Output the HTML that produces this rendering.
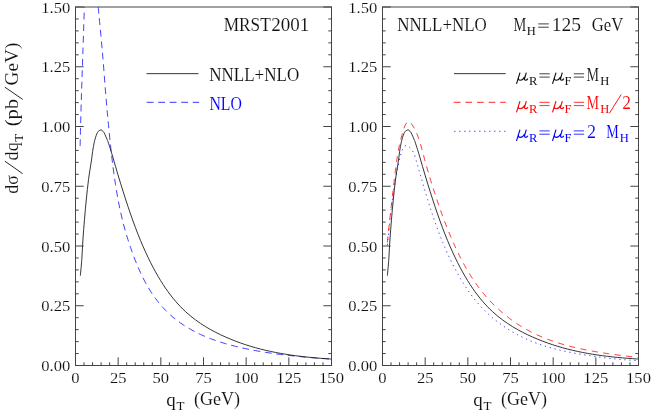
<!DOCTYPE html>
<html><head><meta charset="utf-8"><title>plot</title>
<style>
html,body{margin:0;padding:0;background:#fff;}
svg{display:block;will-change:transform;}
text{font-family:"Liberation Serif",serif;fill:#111;stroke:#fff;stroke-width:0.1px;}
.mu{font-size:17.5px;font-style:italic;stroke-width:0.4px;}
.s{stroke:none;}
.t{font-size:15px;}
.b{font-size:18px;}
.s{font-size:12.5px;}
.i{font-style:italic;}
.cv{fill:none;stroke-width:0.85;}
</style></head><body>
<svg width="654" height="414" viewBox="0 0 654 414">
<rect width="654" height="414" fill="#fff"/>
<defs>
<clipPath id="c1"><rect x="75.5" y="7" width="256" height="358.5"/></clipPath>
<clipPath id="c2"><rect x="382.5" y="7" width="256" height="358.5"/></clipPath>
</defs>
<g clip-path="url(#c1)">
<path class="cv" stroke="#2020ff" stroke-dasharray="6.8 4.7" d="M80.10 146.00 C80.30 138.33 80.83 115.67 81.30 100.00 C81.77 84.33 82.35 68.67 82.90 52.00 C83.45 35.33 84.32 8.67 84.60 0.00"/>
<path class="cv" stroke="#2020ff" stroke-dasharray="6.8 4.7" d="M98.20 7.00 C98.90 14.50 101.07 36.50 102.40 52.00 C103.73 67.50 105.27 88.73 106.20 100.00 C107.13 111.27 107.28 112.10 108.00 119.64 C108.72 127.17 109.67 137.36 110.50 145.23 C111.33 153.10 112.17 160.28 113.00 166.84 C113.83 173.40 114.67 179.18 115.50 184.59 C116.33 190.01 117.17 194.80 118.00 199.32 C118.83 203.84 119.67 207.88 120.50 211.71 C121.33 215.53 122.17 218.99 123.00 222.29 C123.83 225.59 124.67 228.61 125.50 231.52 C126.33 234.43 127.17 237.14 128.00 239.77 C128.83 242.40 129.67 244.89 130.50 247.32 C131.33 249.75 132.17 252.09 133.00 254.36 C133.83 256.63 134.67 258.81 135.50 260.92 C136.33 263.03 137.17 265.06 138.00 267.01 C138.83 268.97 139.67 270.85 140.50 272.66 C141.33 274.47 142.17 276.21 143.00 277.89 C143.83 279.56 144.67 281.16 145.50 282.70 C146.33 284.24 147.17 285.72 148.00 287.14 C148.83 288.56 149.67 289.92 150.50 291.23 C151.33 292.54 152.17 293.80 153.00 295.02 C153.83 296.23 154.67 297.39 155.50 298.52 C156.33 299.65 157.17 300.73 158.00 301.77 C158.83 302.82 159.67 303.82 160.50 304.80 C161.33 305.77 162.17 306.71 163.00 307.62 C163.83 308.52 164.67 309.40 165.50 310.25 C166.33 311.10 167.17 311.92 168.00 312.71 C168.83 313.51 169.67 314.27 170.50 315.02 C171.33 315.77 172.17 316.49 173.00 317.19 C173.83 317.89 174.67 318.57 175.50 319.23 C176.33 319.89 177.17 320.53 178.00 321.16 C178.83 321.78 179.67 322.39 180.50 322.98 C181.33 323.56 182.17 324.14 183.00 324.69 C183.83 325.25 184.67 325.79 185.50 326.32 C186.33 326.84 187.17 327.36 188.00 327.85 C188.83 328.35 189.67 328.84 190.50 329.31 C191.33 329.78 192.17 330.24 193.00 330.69 C193.83 331.14 194.67 331.58 195.50 332.00 C196.33 332.43 197.17 332.84 198.00 333.25 C198.83 333.65 199.67 334.05 200.50 334.43 C201.33 334.81 202.17 335.19 203.00 335.56 C203.83 335.92 204.67 336.28 205.50 336.63 C206.33 336.98 207.17 337.32 208.00 337.65 C208.83 337.98 209.67 338.31 210.50 338.62 C211.33 338.94 212.17 339.25 213.00 339.55 C213.83 339.86 214.67 340.15 215.50 340.44 C216.33 340.73 217.17 341.02 218.00 341.29 C218.83 341.57 219.67 341.84 220.50 342.11 C221.33 342.37 222.17 342.63 223.00 342.89 C223.83 343.14 224.67 343.39 225.50 343.63 C226.33 343.88 227.17 344.12 228.00 344.35 C228.83 344.58 229.67 344.81 230.50 345.04 C231.33 345.26 232.17 345.48 233.00 345.70 C233.83 345.91 234.67 346.13 235.50 346.33 C236.33 346.54 237.17 346.74 238.00 346.94 C238.83 347.14 239.67 347.34 240.50 347.53 C241.33 347.72 242.17 347.91 243.00 348.10 C243.83 348.28 244.67 348.46 245.50 348.64 C246.33 348.82 247.17 348.99 248.00 349.16 C248.83 349.33 249.67 349.50 250.50 349.66 C251.33 349.83 252.17 349.99 253.00 350.15 C253.83 350.31 254.67 350.46 255.50 350.61 C256.33 350.77 257.17 350.92 258.00 351.06 C258.83 351.21 259.67 351.35 260.50 351.49 C261.33 351.64 262.17 351.77 263.00 351.91 C263.83 352.05 264.67 352.18 265.50 352.31 C266.33 352.44 267.17 352.57 268.00 352.70 C268.83 352.82 269.67 352.95 270.50 353.07 C271.33 353.19 272.17 353.31 273.00 353.43 C273.83 353.55 274.67 353.66 275.50 353.78 C276.33 353.89 277.17 354.00 278.00 354.11 C278.83 354.22 279.67 354.33 280.50 354.43 C281.33 354.54 282.17 354.64 283.00 354.74 C283.83 354.85 284.67 354.95 285.50 355.04 C286.33 355.14 287.17 355.24 288.00 355.33 C288.83 355.43 289.67 355.52 290.50 355.61 C291.33 355.71 292.17 355.80 293.00 355.88 C293.83 355.97 294.67 356.06 295.50 356.15 C296.33 356.23 297.17 356.32 298.00 356.40 C298.83 356.48 299.67 356.56 300.50 356.64 C301.33 356.72 302.17 356.80 303.00 356.88 C303.83 356.95 304.67 357.03 305.50 357.10 C306.33 357.18 307.17 357.25 308.00 357.32 C308.83 357.40 309.67 357.47 310.50 357.54 C311.33 357.61 312.17 357.68 313.00 357.74 C313.83 357.81 314.67 357.88 315.50 357.94 C316.33 358.01 317.17 358.07 318.00 358.14 C318.83 358.20 319.67 358.26 320.50 358.32 C321.33 358.38 322.17 358.44 323.00 358.50 C323.83 358.56 324.67 358.62 325.50 358.68 C326.33 358.74 327.17 358.79 328.00 358.85 C328.83 358.90 329.95 358.98 330.50 359.01 C331.05 359.05 331.17 359.05 331.30 359.06"/>
<path class="cv" stroke="#111" d="M80.35 275.75 C80.59 273.01 81.38 265.26 81.80 259.30 C82.22 253.34 82.45 246.67 82.90 240.00 C83.35 233.33 83.94 225.97 84.50 219.30 C85.06 212.63 85.57 206.67 86.25 200.00 C86.93 193.33 87.69 185.97 88.56 179.30 C89.44 172.63 90.76 165.05 91.50 160.00 C92.24 154.95 92.42 152.45 93.00 149.00 C93.58 145.55 94.27 142.03 95.00 139.30 C95.73 136.57 96.68 134.05 97.40 132.60 C98.12 131.15 98.69 131.04 99.30 130.60 C99.91 130.16 100.49 129.88 101.06 129.95 C101.63 130.02 102.18 130.49 102.70 131.00 C103.22 131.51 103.48 131.62 104.20 133.00 C104.92 134.38 106.42 137.85 107.05 139.30 C107.68 140.75 107.42 140.04 108.00 141.71 C108.58 143.39 109.67 146.68 110.50 149.36 C111.33 152.03 112.17 154.91 113.00 157.75 C113.83 160.59 114.67 163.54 115.50 166.39 C116.33 169.25 117.17 172.09 118.00 174.88 C118.83 177.67 119.67 180.41 120.50 183.13 C121.33 185.84 122.17 188.51 123.00 191.15 C123.83 193.79 124.67 196.40 125.50 198.97 C126.33 201.54 127.17 204.08 128.00 206.57 C128.83 209.06 129.67 211.52 130.50 213.92 C131.33 216.33 132.17 218.69 133.00 221.00 C133.83 223.31 134.67 225.57 135.50 227.78 C136.33 229.98 137.17 232.14 138.00 234.25 C138.83 236.35 139.67 238.41 140.50 240.42 C141.33 242.43 142.17 244.39 143.00 246.31 C143.83 248.22 144.67 250.09 145.50 251.92 C146.33 253.75 147.17 255.53 148.00 257.27 C148.83 259.01 149.67 260.71 150.50 262.37 C151.33 264.03 152.17 265.65 153.00 267.23 C153.83 268.81 154.67 270.35 155.50 271.85 C156.33 273.36 157.17 274.82 158.00 276.25 C158.83 277.67 159.67 279.06 160.50 280.42 C161.33 281.77 162.17 283.09 163.00 284.38 C163.83 285.66 164.67 286.91 165.50 288.13 C166.33 289.34 167.17 290.53 168.00 291.68 C168.83 292.83 169.67 293.95 170.50 295.04 C171.33 296.12 172.17 297.18 173.00 298.21 C173.83 299.24 174.67 300.24 175.50 301.21 C176.33 302.18 177.17 303.12 178.00 304.03 C178.83 304.95 179.67 305.84 180.50 306.70 C181.33 307.56 182.17 308.40 183.00 309.21 C183.83 310.02 184.67 310.81 185.50 311.58 C186.33 312.35 187.17 313.09 188.00 313.82 C188.83 314.55 189.67 315.25 190.50 315.94 C191.33 316.63 192.17 317.30 193.00 317.95 C193.83 318.60 194.67 319.24 195.50 319.86 C196.33 320.48 197.17 321.08 198.00 321.67 C198.83 322.26 199.67 322.83 200.50 323.39 C201.33 323.95 202.17 324.50 203.00 325.03 C203.83 325.57 204.67 326.09 205.50 326.60 C206.33 327.11 207.17 327.61 208.00 328.10 C208.83 328.59 209.67 329.06 210.50 329.53 C211.33 330.00 212.17 330.45 213.00 330.90 C213.83 331.35 214.67 331.79 215.50 332.22 C216.33 332.65 217.17 333.07 218.00 333.48 C218.83 333.89 219.67 334.30 220.50 334.70 C221.33 335.09 222.17 335.48 223.00 335.86 C223.83 336.25 224.67 336.62 225.50 336.99 C226.33 337.36 227.17 337.72 228.00 338.08 C228.83 338.43 229.67 338.78 230.50 339.12 C231.33 339.47 232.17 339.80 233.00 340.14 C233.83 340.47 234.67 340.79 235.50 341.11 C236.33 341.43 237.17 341.75 238.00 342.05 C238.83 342.36 239.67 342.66 240.50 342.96 C241.33 343.26 242.17 343.55 243.00 343.83 C243.83 344.12 244.67 344.40 245.50 344.67 C246.33 344.95 247.17 345.22 248.00 345.48 C248.83 345.74 249.67 346.00 250.50 346.25 C251.33 346.51 252.17 346.76 253.00 347.00 C253.83 347.24 254.67 347.48 255.50 347.71 C256.33 347.95 257.17 348.17 258.00 348.40 C258.83 348.62 259.67 348.84 260.50 349.05 C261.33 349.27 262.17 349.47 263.00 349.68 C263.83 349.88 264.67 350.08 265.50 350.28 C266.33 350.48 267.17 350.67 268.00 350.85 C268.83 351.04 269.67 351.23 270.50 351.40 C271.33 351.58 272.17 351.76 273.00 351.93 C273.83 352.10 274.67 352.27 275.50 352.43 C276.33 352.59 277.17 352.75 278.00 352.91 C278.83 353.07 279.67 353.22 280.50 353.37 C281.33 353.51 282.17 353.66 283.00 353.80 C283.83 353.94 284.67 354.08 285.50 354.22 C286.33 354.35 287.17 354.48 288.00 354.61 C288.83 354.74 289.67 354.87 290.50 354.99 C291.33 355.11 292.17 355.23 293.00 355.35 C293.83 355.47 294.67 355.58 295.50 355.69 C296.33 355.80 297.17 355.91 298.00 356.02 C298.83 356.12 299.67 356.22 300.50 356.32 C301.33 356.42 302.17 356.52 303.00 356.62 C303.83 356.71 304.67 356.81 305.50 356.90 C306.33 356.99 307.17 357.08 308.00 357.16 C308.83 357.25 309.67 357.33 310.50 357.41 C311.33 357.49 312.17 357.57 313.00 357.65 C313.83 357.73 314.67 357.80 315.50 357.88 C316.33 357.95 317.17 358.02 318.00 358.09 C318.83 358.16 319.67 358.23 320.50 358.29 C321.33 358.36 322.17 358.42 323.00 358.49 C323.83 358.55 324.67 358.61 325.50 358.67 C326.33 358.73 327.17 358.78 328.00 358.84 C328.83 358.89 329.95 358.96 330.50 359.00 C331.05 359.03 331.17 359.04 331.30 359.05"/>
</g>
<g clip-path="url(#c2)">
<path class="cv" stroke="#2222ff" stroke-width="1.3" stroke-dasharray="1.3 3.75" stroke-dashoffset="4.45" d="M387.35 245.60 C387.38 245.32 387.46 244.46 387.52 243.88 C387.58 243.31 387.64 242.73 387.70 242.15 C387.76 241.58 387.82 241.00 387.88 240.43 C387.93 239.85 387.99 239.27 388.05 238.69 C388.11 238.11 388.17 237.54 388.23 236.96 C388.29 236.38 388.34 235.80 388.40 235.22 C388.46 234.64 388.52 234.06 388.58 233.48 C388.64 232.90 388.70 232.31 388.76 231.73 C388.82 231.15 388.87 230.57 388.93 229.99 C388.99 229.40 389.05 228.82 389.11 228.24 C389.17 227.66 389.23 227.07 389.29 226.49 C389.35 225.91 389.41 225.32 389.48 224.74 C389.54 224.16 389.60 223.57 389.66 222.99 C389.72 222.40 389.78 221.82 389.85 221.23 C389.91 220.65 389.97 220.06 390.03 219.48 C390.10 218.90 390.16 218.31 390.22 217.73 C390.29 217.14 390.35 216.56 390.42 215.97 C390.48 215.39 390.55 214.80 390.61 214.22 C390.68 213.63 390.75 213.05 390.81 212.46 C390.88 211.88 390.95 211.29 391.01 210.71 C391.08 210.12 391.15 209.54 391.22 208.95 C391.29 208.37 391.36 207.78 391.43 207.20 C391.50 206.61 391.57 206.03 391.65 205.45 C391.72 204.86 391.79 204.28 391.86 203.69 C391.94 203.11 392.01 202.53 392.09 201.94 C392.16 201.36 392.24 200.78 392.31 200.19 C392.39 199.61 392.47 199.03 392.55 198.45 C392.62 197.87 392.70 197.28 392.78 196.70 C392.86 196.12 392.94 195.54 393.03 194.96 C393.11 194.38 393.19 193.80 393.27 193.22 C393.36 192.64 393.44 192.06 393.53 191.48 C393.61 190.91 393.70 190.33 393.79 189.75 C393.88 189.17 393.96 188.59 394.05 188.02 C394.14 187.44 394.24 186.87 394.33 186.29 C394.42 185.71 394.51 185.14 394.61 184.57 C394.70 183.99 394.80 183.42 394.89 182.84 C394.99 182.27 395.09 181.70 395.19 181.13 C395.29 180.56 395.39 179.99 395.49 179.42 C395.59 178.85 395.69 178.28 395.80 177.71 C395.90 177.14 396.01 176.57 396.11 176.00 C396.22 175.44 396.33 174.87 396.44 174.31 C396.55 173.74 396.66 173.18 396.77 172.61 C396.88 172.05 396.99 171.48 397.11 170.92 C397.22 170.35 397.34 169.79 397.46 169.22 C397.57 168.65 397.69 168.08 397.81 167.51 C397.93 166.94 398.05 166.37 398.18 165.80 C398.30 165.22 398.42 164.65 398.55 164.07 C398.67 163.49 398.80 162.91 398.93 162.32 C399.05 161.74 399.18 161.15 399.31 160.55 C399.44 159.96 399.57 159.36 399.71 158.76 C399.84 158.16 399.97 157.55 400.12 156.94 C400.26 156.34 400.41 155.73 400.57 155.13 C400.73 154.52 400.89 153.92 401.08 153.32 C401.26 152.72 401.45 152.13 401.67 151.54 C401.88 150.95 402.11 150.36 402.35 149.79 C402.60 149.23 402.87 148.65 403.16 148.14 C403.45 147.64 403.76 147.15 404.09 146.77 C404.42 146.39 404.78 146.07 405.15 145.88 C405.53 145.69 405.93 145.61 406.34 145.62 C406.75 145.62 407.18 145.73 407.60 145.91 C408.03 146.08 408.47 146.34 408.90 146.65 C409.32 146.95 409.75 147.33 410.16 147.74 C410.56 148.14 410.97 148.61 411.34 149.08 C411.71 149.55 412.06 150.06 412.38 150.57 C412.70 151.07 412.99 151.60 413.26 152.13 C413.53 152.66 413.77 153.20 414.00 153.74 C414.23 154.28 414.44 154.84 414.63 155.39 C414.83 155.95 415.01 156.51 415.19 157.07 C415.37 157.64 415.53 158.21 415.70 158.77 C415.86 159.34 416.02 159.91 416.19 160.48 C416.35 161.04 416.51 161.61 416.68 162.18 C416.84 162.75 417.01 163.32 417.17 163.88 C417.33 164.45 417.49 165.02 417.66 165.58 C417.82 166.15 417.98 166.72 418.15 167.29 C418.31 167.85 418.47 168.42 418.64 168.99 C418.80 169.55 418.96 170.12 419.12 170.69 C419.29 171.25 419.45 171.82 419.61 172.39 C419.78 172.95 419.94 173.52 420.10 174.09 C420.27 174.65 420.43 175.22 420.59 175.78 C420.76 176.35 420.92 176.92 421.08 177.48 C421.25 178.05 421.41 178.61 421.58 179.18 C421.74 179.74 421.90 180.31 422.07 180.87 C422.23 181.44 422.40 182.00 422.56 182.57 C422.73 183.13 422.89 183.70 423.06 184.26 C423.22 184.82 423.39 185.39 423.56 185.95 C423.72 186.51 423.89 187.08 424.05 187.64 C424.22 188.21 424.39 188.77 424.56 189.33 C424.72 189.89 424.89 190.46 425.06 191.02 C425.23 191.58 425.40 192.14 425.56 192.71 C425.73 193.27 425.90 193.83 426.07 194.39 C426.24 194.95 426.41 195.51 426.58 196.07 C426.75 196.64 426.93 197.20 427.10 197.76 C427.27 198.32 427.44 198.88 427.61 199.44 C427.79 200.00 427.96 200.56 428.13 201.12 C428.31 201.68 428.48 202.23 428.66 202.79 C428.83 203.35 429.01 203.91 429.19 204.47 C429.36 205.03 429.54 205.58 429.72 206.14 C429.89 206.70 430.07 207.26 430.25 207.81 C430.43 208.37 430.61 208.93 430.79 209.48 C430.97 210.04 431.15 210.60 431.34 211.15 C431.52 211.71 431.70 212.26 431.88 212.82 C432.07 213.37 432.25 213.93 432.44 214.48 C432.62 215.04 432.81 215.59 433.00 216.14 C433.18 216.70 433.37 217.25 433.56 217.80 C433.75 218.36 433.94 218.91 434.13 219.46 C434.32 220.01 434.51 220.57 434.70 221.12 C434.89 221.67 435.09 222.22 435.28 222.77 C435.47 223.32 435.67 223.87 435.87 224.42 C436.06 224.97 436.26 225.52 436.46 226.07 C436.66 226.62 436.85 227.17 437.05 227.72 C437.26 228.26 437.46 228.81 437.66 229.36 C437.86 229.91 438.06 230.45 438.27 231.00 C438.47 231.55 438.68 232.09 438.89 232.64 C439.09 233.18 439.30 233.73 439.51 234.27 C439.72 234.82 439.93 235.36 440.14 235.91 C440.35 236.45 440.57 236.99 440.78 237.54 C440.99 238.08 441.21 238.62 441.43 239.16 C441.64 239.71 441.86 240.25 442.08 240.79 C442.30 241.33 442.52 241.87 442.74 242.41 C442.96 242.95 443.19 243.49 443.41 244.03 C443.64 244.57 443.86 245.11 444.09 245.64 C444.32 246.18 444.55 246.72 444.78 247.26 C445.01 247.79 445.24 248.33 445.47 248.87 C445.70 249.40 445.94 249.94 446.17 250.47 C446.41 251.01 446.65 251.54 446.89 252.08 C447.12 252.61 447.36 253.14 447.61 253.68 C447.85 254.21 448.09 254.74 448.34 255.27 C448.58 255.80 448.83 256.34 449.08 256.87 C449.33 257.40 449.58 257.93 449.83 258.46 C450.08 258.99 450.33 259.51 450.59 260.04 C450.84 260.57 451.10 261.10 451.36 261.62 C451.61 262.15 451.87 262.68 452.14 263.20 C452.40 263.73 452.66 264.26 452.93 264.78 C453.19 265.30 453.46 265.83 453.73 266.35 C454.00 266.87 454.27 267.40 454.54 267.92 C454.81 268.44 455.08 268.96 455.36 269.48 C455.64 270.00 455.91 270.52 456.19 271.04 C456.47 271.56 456.76 272.07 457.04 272.59 C457.32 273.11 457.61 273.62 457.90 274.14 C458.18 274.65 458.47 275.16 458.76 275.68 C459.06 276.19 459.35 276.70 459.65 277.21 C459.94 277.72 460.24 278.23 460.54 278.73 C460.84 279.24 461.14 279.75 461.44 280.25 C461.75 280.76 462.05 281.26 462.36 281.76 C462.67 282.26 462.98 282.76 463.29 283.26 C463.61 283.76 463.92 284.26 464.24 284.76 C464.55 285.25 464.87 285.75 465.19 286.24 C465.52 286.73 465.84 287.22 466.17 287.71 C466.49 288.20 466.82 288.69 467.15 289.17 C467.48 289.66 467.81 290.14 468.15 290.63 C468.48 291.11 468.82 291.59 469.16 292.07 C469.50 292.55 469.84 293.02 470.19 293.50 C470.53 293.97 470.88 294.44 471.23 294.91 C471.58 295.39 471.93 295.85 472.29 296.32 C472.64 296.79 473.00 297.25 473.36 297.71 C473.72 298.17 474.08 298.63 474.45 299.09 C474.81 299.55 475.18 300.01 475.55 300.46 C475.92 300.91 476.29 301.36 476.67 301.81 C477.04 302.26 477.42 302.70 477.80 303.15 C478.18 303.59 478.57 304.03 478.95 304.47 C479.34 304.91 479.73 305.35 480.12 305.78 C480.51 306.21 480.91 306.64 481.30 307.07 C481.70 307.50 482.10 307.92 482.50 308.35 C482.91 308.77 483.31 309.19 483.72 309.61 C484.13 310.02 484.54 310.44 484.96 310.85 C485.37 311.26 485.79 311.67 486.21 312.07 C486.63 312.48 487.05 312.88 487.47 313.28 C487.90 313.68 488.33 314.08 488.76 314.47 C489.19 314.87 489.62 315.26 490.06 315.65 C490.49 316.04 490.93 316.42 491.37 316.80 C491.81 317.19 492.26 317.57 492.70 317.94 C493.15 318.32 493.60 318.69 494.05 319.07 C494.50 319.44 494.95 319.81 495.41 320.17 C495.87 320.54 496.32 320.90 496.79 321.26 C497.25 321.62 497.71 321.98 498.17 322.33 C498.64 322.68 499.11 323.03 499.58 323.38 C500.05 323.73 500.52 324.08 500.99 324.42 C501.47 324.76 501.94 325.10 502.42 325.44 C502.90 325.77 503.38 326.11 503.87 326.44 C504.35 326.77 504.83 327.09 505.32 327.42 C505.81 327.74 506.30 328.06 506.79 328.38 C507.28 328.70 507.77 329.02 508.27 329.33 C508.76 329.64 509.26 329.95 509.76 330.26 C510.26 330.56 510.76 330.87 511.26 331.17 C511.76 331.47 512.27 331.77 512.77 332.06 C513.28 332.36 513.79 332.65 514.30 332.94 C514.81 333.23 515.32 333.51 515.83 333.79 C516.35 334.08 516.86 334.36 517.38 334.63 C517.89 334.91 518.41 335.18 518.93 335.45 C519.45 335.72 519.97 335.99 520.50 336.26 C521.02 336.52 521.54 336.78 522.07 337.04 C522.60 337.30 523.12 337.55 523.65 337.80 C524.18 338.06 524.71 338.31 525.24 338.55 C525.78 338.80 526.31 339.04 526.84 339.28 C527.38 339.52 527.91 339.76 528.45 339.99 C528.99 340.22 529.53 340.45 530.07 340.68 C530.61 340.91 531.15 341.13 531.69 341.36 C532.23 341.58 532.78 341.79 533.32 342.01 C533.86 342.22 534.41 342.44 534.96 342.64 C535.50 342.85 536.05 343.06 536.60 343.26 C537.15 343.46 537.70 343.66 538.25 343.86 C538.80 344.06 539.35 344.25 539.91 344.44 C540.46 344.63 541.01 344.82 541.57 345.01 C542.12 345.19 542.68 345.37 543.24 345.55 C543.79 345.73 544.35 345.91 544.91 346.09 C545.47 346.26 546.03 346.43 546.59 346.60 C547.15 346.77 547.71 346.94 548.27 347.10 C548.83 347.27 549.40 347.43 549.96 347.59 C550.52 347.75 551.09 347.90 551.65 348.06 C552.22 348.21 552.79 348.37 553.35 348.52 C553.92 348.67 554.49 348.81 555.05 348.96 C555.62 349.10 556.19 349.25 556.76 349.39 C557.33 349.53 557.90 349.67 558.47 349.81 C559.04 349.94 559.61 350.08 560.18 350.21 C560.75 350.35 561.32 350.48 561.90 350.61 C562.47 350.73 563.04 350.86 563.62 350.99 C564.19 351.11 564.76 351.24 565.34 351.36 C565.91 351.48 566.49 351.60 567.06 351.72 C567.64 351.84 568.21 351.96 568.79 352.07 C569.36 352.19 569.94 352.30 570.52 352.41 C571.09 352.52 571.67 352.63 572.25 352.74 C572.82 352.85 573.40 352.96 573.98 353.07 C574.56 353.17 575.13 353.28 575.71 353.38 C576.29 353.49 576.87 353.59 577.45 353.69 C578.03 353.79 578.60 353.89 579.18 353.99 C579.76 354.09 580.34 354.19 580.92 354.28 C581.50 354.38 582.08 354.47 582.66 354.57 C583.24 354.66 583.82 354.76 584.39 354.85 C584.97 354.94 585.55 355.03 586.13 355.12 C586.71 355.22 587.29 355.30 587.87 355.39 C588.45 355.48 589.03 355.57 589.61 355.66 C590.19 355.75 590.77 355.83 591.34 355.92 C591.92 356.00 592.50 356.09 593.08 356.17 C593.66 356.26 594.24 356.34 594.82 356.42 C595.40 356.51 595.98 356.59 596.55 356.67 C597.13 356.75 597.71 356.83 598.29 356.91 C598.87 356.99 599.45 357.06 600.03 357.14 C600.61 357.22 601.19 357.29 601.77 357.37 C602.35 357.44 602.93 357.52 603.51 357.59 C604.08 357.66 604.66 357.73 605.24 357.80 C605.82 357.88 606.40 357.95 606.98 358.01 C607.56 358.08 608.14 358.15 608.72 358.22 C609.30 358.28 609.89 358.35 610.47 358.42 C611.05 358.48 611.63 358.54 612.21 358.61 C612.79 358.67 613.37 358.73 613.95 358.79 C614.53 358.85 615.11 358.91 615.70 358.97 C616.28 359.03 616.86 359.08 617.44 359.14 C618.02 359.19 618.61 359.25 619.19 359.30 C619.77 359.35 620.35 359.41 620.94 359.46 C621.52 359.51 622.10 359.56 622.69 359.61 C623.27 359.66 623.86 359.70 624.44 359.75 C625.02 359.80 625.61 359.84 626.19 359.88 C626.78 359.93 627.36 359.97 627.95 360.01 C628.54 360.05 629.12 360.09 629.71 360.13 C630.29 360.17 630.88 360.21 631.47 360.24 C632.05 360.28 632.64 360.31 633.23 360.34 C633.82 360.38 634.41 360.41 634.99 360.44 C635.58 360.47 636.17 360.50 636.76 360.53 C637.35 360.55 638.24 360.59 638.53 360.61"/>
<path class="cv" stroke="#ff1010" stroke-dasharray="6.1 5.45" stroke-dashoffset="8.05" d="M386.97 245.91 C387.00 245.60 387.10 244.65 387.16 244.02 C387.22 243.39 387.29 242.76 387.35 242.12 C387.42 241.49 387.48 240.86 387.55 240.23 C387.62 239.60 387.68 238.97 387.75 238.34 C387.81 237.71 387.88 237.09 387.94 236.46 C388.01 235.83 388.08 235.20 388.14 234.57 C388.21 233.94 388.28 233.31 388.34 232.69 C388.41 232.06 388.48 231.43 388.54 230.80 C388.61 230.18 388.68 229.55 388.75 228.92 C388.81 228.30 388.88 227.67 388.95 227.04 C389.02 226.42 389.09 225.79 389.15 225.17 C389.22 224.54 389.29 223.91 389.36 223.29 C389.43 222.66 389.50 222.04 389.56 221.41 C389.63 220.79 389.70 220.16 389.77 219.54 C389.84 218.91 389.91 218.29 389.98 217.66 C390.05 217.04 390.12 216.41 390.19 215.79 C390.26 215.17 390.33 214.54 390.39 213.92 C390.46 213.29 390.53 212.67 390.60 212.04 C390.67 211.42 390.74 210.80 390.82 210.17 C390.89 209.55 390.96 208.93 391.03 208.30 C391.10 207.68 391.17 207.05 391.24 206.43 C391.31 205.81 391.38 205.18 391.45 204.56 C391.52 203.94 391.59 203.31 391.66 202.69 C391.73 202.06 391.81 201.44 391.88 200.82 C391.95 200.19 392.02 199.57 392.09 198.94 C392.16 198.32 392.23 197.70 392.31 197.07 C392.38 196.45 392.45 195.82 392.52 195.20 C392.59 194.58 392.66 193.95 392.74 193.33 C392.81 192.70 392.88 192.08 392.95 191.45 C393.02 190.83 393.10 190.21 393.17 189.58 C393.24 188.96 393.31 188.33 393.39 187.71 C393.46 187.08 393.53 186.46 393.60 185.83 C393.68 185.20 393.75 184.58 393.82 183.95 C393.89 183.33 393.97 182.70 394.04 182.07 C394.11 181.45 394.18 180.82 394.26 180.19 C394.33 179.57 394.40 178.94 394.47 178.31 C394.55 177.69 394.62 177.06 394.69 176.43 C394.77 175.80 394.84 175.18 394.91 174.55 C394.99 173.92 395.06 173.29 395.14 172.67 C395.21 172.04 395.29 171.41 395.37 170.78 C395.44 170.16 395.52 169.53 395.60 168.90 C395.68 168.28 395.76 167.65 395.84 167.02 C395.92 166.39 396.00 165.77 396.08 165.14 C396.17 164.52 396.25 163.89 396.34 163.26 C396.42 162.64 396.51 162.01 396.60 161.39 C396.69 160.77 396.78 160.14 396.87 159.52 C396.97 158.89 397.06 158.27 397.16 157.65 C397.25 157.03 397.35 156.40 397.45 155.78 C397.55 155.16 397.65 154.54 397.76 153.92 C397.87 153.30 397.97 152.68 398.08 152.07 C398.19 151.45 398.31 150.83 398.42 150.22 C398.54 149.60 398.65 148.98 398.77 148.37 C398.89 147.76 399.02 147.14 399.14 146.53 C399.27 145.92 399.40 145.31 399.53 144.70 C399.67 144.09 399.80 143.48 399.94 142.87 C400.08 142.26 400.22 141.66 400.37 141.05 C400.51 140.45 400.66 139.85 400.82 139.24 C400.97 138.64 401.13 138.04 401.29 137.43 C401.45 136.83 401.62 136.23 401.79 135.62 C401.96 135.01 402.13 134.41 402.31 133.79 C402.49 133.18 402.68 132.56 402.87 131.94 C403.06 131.31 403.26 130.69 403.46 130.05 C403.67 129.41 403.87 128.77 404.09 128.12 C404.31 127.47 404.53 126.80 404.79 126.17 C405.05 125.54 405.31 124.90 405.64 124.32 C405.98 123.75 406.35 123.18 406.78 122.73 C407.21 122.27 407.75 121.78 408.23 121.61 C408.71 121.44 409.22 121.47 409.65 121.69 C410.09 121.92 410.47 122.51 410.85 122.97 C411.23 123.44 411.58 123.98 411.94 124.49 C412.29 125.00 412.63 125.52 412.96 126.04 C413.28 126.57 413.60 127.10 413.91 127.64 C414.22 128.17 414.51 128.72 414.80 129.26 C415.09 129.81 415.36 130.37 415.63 130.92 C415.90 131.48 416.16 132.05 416.41 132.61 C416.67 133.18 416.91 133.75 417.15 134.33 C417.38 134.91 417.61 135.49 417.83 136.07 C418.06 136.66 418.27 137.25 418.48 137.84 C418.69 138.43 418.89 139.02 419.09 139.62 C419.29 140.22 419.49 140.82 419.67 141.42 C419.86 142.02 420.05 142.63 420.23 143.24 C420.41 143.84 420.59 144.45 420.76 145.06 C420.94 145.67 421.11 146.29 421.28 146.90 C421.44 147.51 421.61 148.13 421.78 148.74 C421.94 149.36 422.10 149.97 422.27 150.59 C422.43 151.21 422.59 151.82 422.75 152.44 C422.92 153.05 423.08 153.67 423.24 154.29 C423.40 154.90 423.56 155.52 423.73 156.13 C423.89 156.74 424.06 157.36 424.22 157.97 C424.39 158.58 424.56 159.20 424.72 159.81 C424.89 160.42 425.06 161.03 425.23 161.64 C425.40 162.25 425.57 162.86 425.74 163.47 C425.91 164.08 426.08 164.69 426.25 165.29 C426.42 165.90 426.60 166.51 426.77 167.12 C426.95 167.72 427.12 168.33 427.30 168.93 C427.47 169.54 427.65 170.15 427.82 170.75 C428.00 171.36 428.18 171.96 428.36 172.57 C428.53 173.17 428.71 173.77 428.89 174.38 C429.07 174.98 429.25 175.58 429.43 176.19 C429.62 176.79 429.80 177.39 429.98 177.99 C430.16 178.60 430.35 179.20 430.53 179.80 C430.71 180.40 430.90 181.00 431.08 181.60 C431.27 182.21 431.45 182.81 431.64 183.41 C431.83 184.01 432.01 184.61 432.20 185.21 C432.39 185.81 432.58 186.41 432.77 187.01 C432.96 187.61 433.14 188.21 433.34 188.81 C433.53 189.41 433.72 190.01 433.91 190.60 C434.10 191.20 434.29 191.80 434.49 192.40 C434.68 193.00 434.87 193.60 435.07 194.20 C435.26 194.79 435.46 195.39 435.65 195.99 C435.85 196.59 436.05 197.18 436.25 197.78 C436.44 198.38 436.64 198.97 436.84 199.57 C437.04 200.17 437.24 200.76 437.44 201.36 C437.65 201.95 437.85 202.55 438.05 203.14 C438.25 203.74 438.46 204.33 438.66 204.93 C438.87 205.52 439.07 206.12 439.28 206.71 C439.49 207.31 439.70 207.90 439.90 208.49 C440.11 209.09 440.32 209.68 440.53 210.27 C440.74 210.87 440.96 211.46 441.17 212.05 C441.38 212.64 441.60 213.23 441.81 213.82 C442.02 214.42 442.24 215.01 442.46 215.60 C442.67 216.19 442.89 216.78 443.11 217.37 C443.33 217.96 443.55 218.55 443.77 219.14 C443.99 219.73 444.22 220.32 444.44 220.90 C444.66 221.49 444.89 222.08 445.11 222.67 C445.34 223.26 445.57 223.84 445.79 224.43 C446.02 225.02 446.25 225.60 446.48 226.19 C446.71 226.78 446.94 227.36 447.18 227.95 C447.41 228.53 447.64 229.12 447.88 229.70 C448.11 230.29 448.35 230.87 448.59 231.46 C448.83 232.04 449.07 232.62 449.31 233.21 C449.55 233.79 449.79 234.37 450.03 234.95 C450.28 235.53 450.52 236.12 450.77 236.70 C451.01 237.28 451.26 237.86 451.51 238.44 C451.76 239.02 452.01 239.60 452.26 240.18 C452.51 240.76 452.76 241.34 453.02 241.91 C453.27 242.49 453.53 243.07 453.79 243.65 C454.04 244.22 454.30 244.80 454.56 245.37 C454.82 245.95 455.09 246.52 455.35 247.10 C455.61 247.67 455.88 248.25 456.15 248.82 C456.41 249.39 456.68 249.96 456.95 250.53 C457.22 251.10 457.50 251.67 457.77 252.24 C458.05 252.81 458.32 253.38 458.60 253.95 C458.88 254.51 459.16 255.08 459.44 255.64 C459.72 256.21 460.00 256.77 460.29 257.34 C460.58 257.90 460.86 258.46 461.15 259.02 C461.44 259.58 461.73 260.14 462.03 260.70 C462.32 261.26 462.62 261.82 462.92 262.37 C463.21 262.93 463.51 263.48 463.82 264.04 C464.12 264.59 464.42 265.14 464.73 265.69 C465.04 266.24 465.35 266.79 465.66 267.34 C465.97 267.89 466.28 268.43 466.60 268.98 C466.91 269.52 467.23 270.07 467.55 270.61 C467.87 271.15 468.19 271.69 468.52 272.23 C468.85 272.77 469.17 273.31 469.50 273.84 C469.83 274.38 470.17 274.92 470.50 275.45 C470.84 275.98 471.17 276.51 471.51 277.04 C471.85 277.57 472.20 278.10 472.54 278.62 C472.89 279.15 473.24 279.67 473.59 280.20 C473.94 280.72 474.29 281.24 474.65 281.76 C475.01 282.27 475.36 282.79 475.73 283.31 C476.09 283.82 476.45 284.33 476.82 284.84 C477.19 285.35 477.56 285.86 477.93 286.37 C478.30 286.88 478.68 287.38 479.06 287.88 C479.44 288.39 479.82 288.89 480.21 289.38 C480.59 289.88 480.98 290.38 481.37 290.87 C481.76 291.37 482.16 291.86 482.55 292.35 C482.95 292.84 483.35 293.32 483.75 293.81 C484.16 294.29 484.56 294.78 484.97 295.26 C485.38 295.74 485.80 296.22 486.21 296.69 C486.63 297.17 487.05 297.64 487.47 298.11 C487.89 298.58 488.31 299.05 488.74 299.51 C489.17 299.98 489.60 300.44 490.03 300.90 C490.46 301.36 490.90 301.82 491.34 302.28 C491.78 302.73 492.22 303.19 492.66 303.64 C493.11 304.09 493.55 304.53 494.00 304.98 C494.45 305.42 494.91 305.86 495.36 306.30 C495.82 306.74 496.27 307.18 496.73 307.61 C497.19 308.05 497.66 308.48 498.12 308.91 C498.59 309.33 499.06 309.76 499.53 310.18 C500.00 310.60 500.47 311.02 500.95 311.44 C501.42 311.86 501.90 312.27 502.38 312.68 C502.87 313.09 503.35 313.50 503.83 313.90 C504.32 314.31 504.81 314.71 505.30 315.11 C505.79 315.51 506.28 315.90 506.78 316.29 C507.27 316.69 507.77 317.08 508.27 317.46 C508.77 317.85 509.28 318.23 509.78 318.61 C510.29 318.99 510.79 319.37 511.30 319.74 C511.81 320.11 512.32 320.48 512.84 320.85 C513.35 321.21 513.87 321.58 514.38 321.94 C514.90 322.30 515.42 322.65 515.95 323.00 C516.47 323.36 516.99 323.71 517.52 324.05 C518.05 324.40 518.57 324.74 519.10 325.08 C519.64 325.42 520.17 325.75 520.70 326.08 C521.24 326.42 521.77 326.74 522.31 327.07 C522.85 327.39 523.39 327.71 523.93 328.03 C524.48 328.35 525.02 328.66 525.57 328.97 C526.11 329.28 526.66 329.59 527.21 329.89 C527.76 330.19 528.31 330.49 528.87 330.78 C529.42 331.08 529.98 331.37 530.53 331.66 C531.09 331.95 531.65 332.23 532.21 332.51 C532.77 332.79 533.33 333.07 533.90 333.34 C534.46 333.62 535.02 333.89 535.59 334.15 C536.16 334.42 536.73 334.68 537.30 334.94 C537.87 335.20 538.44 335.46 539.01 335.71 C539.59 335.97 540.16 336.22 540.74 336.47 C541.31 336.71 541.89 336.96 542.47 337.20 C543.05 337.44 543.63 337.68 544.21 337.91 C544.80 338.14 545.38 338.38 545.96 338.60 C546.55 338.83 547.13 339.06 547.72 339.28 C548.31 339.50 548.90 339.72 549.49 339.94 C550.08 340.16 550.67 340.37 551.26 340.58 C551.85 340.79 552.45 341.00 553.04 341.20 C553.64 341.41 554.23 341.61 554.83 341.81 C555.43 342.01 556.03 342.21 556.63 342.40 C557.22 342.60 557.83 342.79 558.43 342.98 C559.03 343.17 559.63 343.35 560.23 343.54 C560.84 343.72 561.44 343.90 562.05 344.08 C562.65 344.26 563.26 344.43 563.87 344.61 C564.47 344.78 565.08 344.95 565.69 345.12 C566.30 345.29 566.91 345.46 567.52 345.62 C568.13 345.79 568.74 345.95 569.36 346.11 C569.97 346.27 570.58 346.42 571.20 346.58 C571.81 346.74 572.43 346.89 573.04 347.04 C573.66 347.19 574.27 347.34 574.89 347.48 C575.51 347.63 576.12 347.78 576.74 347.92 C577.36 348.06 577.98 348.20 578.60 348.34 C579.22 348.48 579.84 348.61 580.46 348.75 C581.08 348.88 581.70 349.02 582.32 349.15 C582.94 349.28 583.56 349.41 584.18 349.53 C584.81 349.66 585.43 349.79 586.05 349.91 C586.67 350.03 587.30 350.16 587.92 350.28 C588.55 350.40 589.17 350.51 589.79 350.63 C590.42 350.75 591.04 350.86 591.67 350.98 C592.29 351.09 592.92 351.20 593.54 351.31 C594.17 351.42 594.80 351.53 595.42 351.64 C596.05 351.75 596.67 351.86 597.30 351.96 C597.93 352.07 598.55 352.17 599.18 352.27 C599.80 352.37 600.43 352.47 601.06 352.57 C601.68 352.67 602.31 352.77 602.94 352.87 C603.56 352.97 604.19 353.06 604.82 353.16 C605.44 353.25 606.07 353.35 606.70 353.44 C607.32 353.53 607.95 353.62 608.58 353.71 C609.20 353.80 609.83 353.89 610.45 353.98 C611.08 354.07 611.71 354.16 612.33 354.24 C612.96 354.33 613.58 354.42 614.21 354.50 C614.83 354.59 615.46 354.67 616.08 354.75 C616.71 354.84 617.33 354.92 617.95 355.00 C618.58 355.08 619.20 355.16 619.82 355.24 C620.45 355.32 621.07 355.40 621.69 355.48 C622.31 355.56 622.94 355.64 623.56 355.72 C624.18 355.79 624.80 355.87 625.42 355.95 C626.04 356.02 626.66 356.10 627.28 356.18 C627.90 356.25 628.52 356.33 629.14 356.40 C629.75 356.48 630.37 356.55 630.99 356.63 C631.61 356.70 632.22 356.77 632.84 356.85 C633.45 356.92 634.07 356.99 634.68 357.07 C635.30 357.14 635.91 357.21 636.52 357.29 C637.14 357.36 638.05 357.47 638.36 357.50"/>
<path class="cv" stroke="#111" d="M387.35 275.75 C387.59 273.01 388.38 265.26 388.80 259.30 C389.23 253.34 389.45 246.67 389.90 240.00 C390.35 233.33 390.94 225.97 391.50 219.30 C392.06 212.63 392.57 206.67 393.25 200.00 C393.93 193.33 394.69 185.97 395.56 179.30 C396.44 172.63 397.76 165.05 398.50 160.00 C399.24 154.95 399.42 152.45 400.00 149.00 C400.58 145.55 401.27 142.03 402.00 139.30 C402.73 136.57 403.68 134.05 404.40 132.60 C405.12 131.15 405.69 131.04 406.30 130.60 C406.91 130.16 407.49 129.88 408.06 129.95 C408.63 130.02 409.18 130.49 409.70 131.00 C410.22 131.51 410.47 131.62 411.20 133.00 C411.93 134.38 413.42 137.85 414.05 139.30 C414.68 140.75 414.43 140.04 415.00 141.71 C415.57 143.39 416.67 146.68 417.50 149.36 C418.33 152.03 419.17 154.91 420.00 157.75 C420.83 160.59 421.67 163.54 422.50 166.39 C423.33 169.25 424.17 172.09 425.00 174.88 C425.83 177.67 426.67 180.41 427.50 183.13 C428.33 185.84 429.17 188.51 430.00 191.15 C430.83 193.79 431.67 196.40 432.50 198.97 C433.33 201.54 434.17 204.08 435.00 206.57 C435.83 209.06 436.67 211.52 437.50 213.92 C438.33 216.33 439.17 218.69 440.00 221.00 C440.83 223.31 441.67 225.57 442.50 227.78 C443.33 229.98 444.17 232.14 445.00 234.25 C445.83 236.35 446.67 238.41 447.50 240.42 C448.33 242.43 449.17 244.39 450.00 246.31 C450.83 248.22 451.67 250.09 452.50 251.92 C453.33 253.75 454.17 255.53 455.00 257.27 C455.83 259.01 456.67 260.71 457.50 262.37 C458.33 264.03 459.17 265.65 460.00 267.23 C460.83 268.81 461.67 270.35 462.50 271.85 C463.33 273.36 464.17 274.82 465.00 276.25 C465.83 277.67 466.67 279.06 467.50 280.42 C468.33 281.77 469.17 283.09 470.00 284.38 C470.83 285.66 471.67 286.91 472.50 288.13 C473.33 289.34 474.17 290.53 475.00 291.68 C475.83 292.83 476.67 293.95 477.50 295.04 C478.33 296.12 479.17 297.18 480.00 298.21 C480.83 299.24 481.67 300.24 482.50 301.21 C483.33 302.18 484.17 303.12 485.00 304.03 C485.83 304.95 486.67 305.84 487.50 306.70 C488.33 307.56 489.17 308.40 490.00 309.21 C490.83 310.02 491.67 310.81 492.50 311.58 C493.33 312.35 494.17 313.09 495.00 313.82 C495.83 314.55 496.67 315.25 497.50 315.94 C498.33 316.63 499.17 317.30 500.00 317.95 C500.83 318.60 501.67 319.24 502.50 319.86 C503.33 320.48 504.17 321.08 505.00 321.67 C505.83 322.26 506.67 322.83 507.50 323.39 C508.33 323.95 509.17 324.50 510.00 325.03 C510.83 325.57 511.67 326.09 512.50 326.60 C513.33 327.11 514.17 327.61 515.00 328.10 C515.83 328.59 516.67 329.06 517.50 329.53 C518.33 330.00 519.17 330.45 520.00 330.90 C520.83 331.35 521.67 331.79 522.50 332.22 C523.33 332.65 524.17 333.07 525.00 333.48 C525.83 333.89 526.67 334.30 527.50 334.70 C528.33 335.09 529.17 335.48 530.00 335.86 C530.83 336.25 531.67 336.62 532.50 336.99 C533.33 337.36 534.17 337.72 535.00 338.08 C535.83 338.43 536.67 338.78 537.50 339.12 C538.33 339.47 539.17 339.80 540.00 340.14 C540.83 340.47 541.67 340.79 542.50 341.11 C543.33 341.43 544.17 341.75 545.00 342.05 C545.83 342.36 546.67 342.66 547.50 342.96 C548.33 343.26 549.17 343.55 550.00 343.83 C550.83 344.12 551.67 344.40 552.50 344.67 C553.33 344.95 554.17 345.22 555.00 345.48 C555.83 345.74 556.67 346.00 557.50 346.25 C558.33 346.51 559.17 346.76 560.00 347.00 C560.83 347.24 561.67 347.48 562.50 347.71 C563.33 347.95 564.17 348.17 565.00 348.40 C565.83 348.62 566.67 348.84 567.50 349.05 C568.33 349.27 569.17 349.47 570.00 349.68 C570.83 349.88 571.67 350.08 572.50 350.28 C573.33 350.48 574.17 350.67 575.00 350.85 C575.83 351.04 576.67 351.23 577.50 351.40 C578.33 351.58 579.17 351.76 580.00 351.93 C580.83 352.10 581.67 352.27 582.50 352.43 C583.33 352.59 584.17 352.75 585.00 352.91 C585.83 353.07 586.67 353.22 587.50 353.37 C588.33 353.51 589.17 353.66 590.00 353.80 C590.83 353.94 591.67 354.08 592.50 354.22 C593.33 354.35 594.17 354.48 595.00 354.61 C595.83 354.74 596.67 354.87 597.50 354.99 C598.33 355.11 599.17 355.23 600.00 355.35 C600.83 355.47 601.67 355.58 602.50 355.69 C603.33 355.80 604.17 355.91 605.00 356.02 C605.83 356.12 606.67 356.22 607.50 356.32 C608.33 356.42 609.17 356.52 610.00 356.62 C610.83 356.71 611.67 356.81 612.50 356.90 C613.33 356.99 614.17 357.08 615.00 357.16 C615.83 357.25 616.67 357.33 617.50 357.41 C618.33 357.49 619.17 357.57 620.00 357.65 C620.83 357.73 621.67 357.80 622.50 357.88 C623.33 357.95 624.17 358.02 625.00 358.09 C625.83 358.16 626.67 358.23 627.50 358.29 C628.33 358.36 629.17 358.42 630.00 358.49 C630.83 358.55 631.67 358.61 632.50 358.67 C633.33 358.73 634.17 358.78 635.00 358.84 C635.83 358.89 636.95 358.96 637.50 359.00 C638.05 359.03 638.17 359.04 638.30 359.05"/>
</g>
<path d="M75.5 6.5 V366.0 M331.5 6.5 V366.0 M75.5 7.0 H331.5 M75.5 365.5 H331.5" fill="none" stroke="#444" stroke-width="1"/>
<path d="M75.50 365.50 h8.2 M331.50 365.50 h-8.2 M75.50 353.55 h3.2 M331.50 353.55 h-3.2 M75.50 341.60 h3.2 M331.50 341.60 h-3.2 M75.50 329.65 h3.2 M331.50 329.65 h-3.2 M75.50 317.70 h3.2 M331.50 317.70 h-3.2 M75.50 305.75 h8.2 M331.50 305.75 h-8.2 M75.50 293.80 h3.2 M331.50 293.80 h-3.2 M75.50 281.85 h3.2 M331.50 281.85 h-3.2 M75.50 269.90 h3.2 M331.50 269.90 h-3.2 M75.50 257.95 h3.2 M331.50 257.95 h-3.2 M75.50 246.00 h8.2 M331.50 246.00 h-8.2 M75.50 234.05 h3.2 M331.50 234.05 h-3.2 M75.50 222.10 h3.2 M331.50 222.10 h-3.2 M75.50 210.15 h3.2 M331.50 210.15 h-3.2 M75.50 198.20 h3.2 M331.50 198.20 h-3.2 M75.50 186.25 h8.2 M331.50 186.25 h-8.2 M75.50 174.30 h3.2 M331.50 174.30 h-3.2 M75.50 162.35 h3.2 M331.50 162.35 h-3.2 M75.50 150.40 h3.2 M331.50 150.40 h-3.2 M75.50 138.45 h3.2 M331.50 138.45 h-3.2 M75.50 126.50 h8.2 M331.50 126.50 h-8.2 M75.50 114.55 h3.2 M331.50 114.55 h-3.2 M75.50 102.60 h3.2 M331.50 102.60 h-3.2 M75.50 90.65 h3.2 M331.50 90.65 h-3.2 M75.50 78.70 h3.2 M331.50 78.70 h-3.2 M75.50 66.75 h8.2 M331.50 66.75 h-8.2 M75.50 54.80 h3.2 M331.50 54.80 h-3.2 M75.50 42.85 h3.2 M331.50 42.85 h-3.2 M75.50 30.90 h3.2 M331.50 30.90 h-3.2 M75.50 18.95 h3.2 M331.50 18.95 h-3.2 M75.50 7.00 h8.2 M331.50 7.00 h-8.2 M75.50 365.50 v-8.2 M84.03 365.50 v-3.2 M92.57 365.50 v-3.2 M101.10 365.50 v-3.2 M109.63 365.50 v-3.2 M118.17 365.50 v-8.2 M126.70 365.50 v-3.2 M135.23 365.50 v-3.2 M143.77 365.50 v-3.2 M152.30 365.50 v-3.2 M160.83 365.50 v-8.2 M169.37 365.50 v-3.2 M177.90 365.50 v-3.2 M186.43 365.50 v-3.2 M194.97 365.50 v-3.2 M203.50 365.50 v-8.2 M212.03 365.50 v-3.2 M220.57 365.50 v-3.2 M229.10 365.50 v-3.2 M237.63 365.50 v-3.2 M246.17 365.50 v-8.2 M254.70 365.50 v-3.2 M263.23 365.50 v-3.2 M271.77 365.50 v-3.2 M280.30 365.50 v-3.2 M288.83 365.50 v-8.2 M297.37 365.50 v-3.2 M305.90 365.50 v-3.2 M314.43 365.50 v-3.2 M322.97 365.50 v-3.2 M331.50 365.50 v-8.2 " stroke="#444" stroke-width="1" fill="none"/>
<text x="70.3" y="371.1" text-anchor="end" class="t" textLength="29" lengthAdjust="spacingAndGlyphs">0.00</text>
<text x="70.3" y="311.4" text-anchor="end" class="t" textLength="29" lengthAdjust="spacingAndGlyphs">0.25</text>
<text x="70.3" y="251.6" text-anchor="end" class="t" textLength="29" lengthAdjust="spacingAndGlyphs">0.50</text>
<text x="70.3" y="191.8" text-anchor="end" class="t" textLength="29" lengthAdjust="spacingAndGlyphs">0.75</text>
<text x="70.3" y="132.1" text-anchor="end" class="t" textLength="29" lengthAdjust="spacingAndGlyphs">1.00</text>
<text x="70.3" y="72.3" text-anchor="end" class="t" textLength="29" lengthAdjust="spacingAndGlyphs">1.25</text>
<text x="70.3" y="12.6" text-anchor="end" class="t" textLength="29" lengthAdjust="spacingAndGlyphs">1.50</text>
<text x="75.5" y="383.2" text-anchor="middle" class="t" textLength="8.3" lengthAdjust="spacingAndGlyphs">0</text>
<text x="118.2" y="383.2" text-anchor="middle" class="t" textLength="16.6" lengthAdjust="spacingAndGlyphs">25</text>
<text x="160.8" y="383.2" text-anchor="middle" class="t" textLength="16.6" lengthAdjust="spacingAndGlyphs">50</text>
<text x="203.5" y="383.2" text-anchor="middle" class="t" textLength="16.6" lengthAdjust="spacingAndGlyphs">75</text>
<text x="246.2" y="383.2" text-anchor="middle" class="t" textLength="24.9" lengthAdjust="spacingAndGlyphs">100</text>
<text x="288.8" y="383.2" text-anchor="middle" class="t" textLength="24.9" lengthAdjust="spacingAndGlyphs">125</text>
<text x="331.5" y="383.2" text-anchor="middle" class="t" textLength="24.9" lengthAdjust="spacingAndGlyphs">150</text>
<path d="M382.5 6.5 V366.0 M638.5 6.5 V366.0 M382.5 7.0 H638.5 M382.5 365.5 H638.5" fill="none" stroke="#444" stroke-width="1"/>
<path d="M382.50 365.50 h8.2 M638.50 365.50 h-8.2 M382.50 353.55 h3.2 M638.50 353.55 h-3.2 M382.50 341.60 h3.2 M638.50 341.60 h-3.2 M382.50 329.65 h3.2 M638.50 329.65 h-3.2 M382.50 317.70 h3.2 M638.50 317.70 h-3.2 M382.50 305.75 h8.2 M638.50 305.75 h-8.2 M382.50 293.80 h3.2 M638.50 293.80 h-3.2 M382.50 281.85 h3.2 M638.50 281.85 h-3.2 M382.50 269.90 h3.2 M638.50 269.90 h-3.2 M382.50 257.95 h3.2 M638.50 257.95 h-3.2 M382.50 246.00 h8.2 M638.50 246.00 h-8.2 M382.50 234.05 h3.2 M638.50 234.05 h-3.2 M382.50 222.10 h3.2 M638.50 222.10 h-3.2 M382.50 210.15 h3.2 M638.50 210.15 h-3.2 M382.50 198.20 h3.2 M638.50 198.20 h-3.2 M382.50 186.25 h8.2 M638.50 186.25 h-8.2 M382.50 174.30 h3.2 M638.50 174.30 h-3.2 M382.50 162.35 h3.2 M638.50 162.35 h-3.2 M382.50 150.40 h3.2 M638.50 150.40 h-3.2 M382.50 138.45 h3.2 M638.50 138.45 h-3.2 M382.50 126.50 h8.2 M638.50 126.50 h-8.2 M382.50 114.55 h3.2 M638.50 114.55 h-3.2 M382.50 102.60 h3.2 M638.50 102.60 h-3.2 M382.50 90.65 h3.2 M638.50 90.65 h-3.2 M382.50 78.70 h3.2 M638.50 78.70 h-3.2 M382.50 66.75 h8.2 M638.50 66.75 h-8.2 M382.50 54.80 h3.2 M638.50 54.80 h-3.2 M382.50 42.85 h3.2 M638.50 42.85 h-3.2 M382.50 30.90 h3.2 M638.50 30.90 h-3.2 M382.50 18.95 h3.2 M638.50 18.95 h-3.2 M382.50 7.00 h8.2 M638.50 7.00 h-8.2 M382.50 365.50 v-8.2 M391.03 365.50 v-3.2 M399.57 365.50 v-3.2 M408.10 365.50 v-3.2 M416.63 365.50 v-3.2 M425.17 365.50 v-8.2 M433.70 365.50 v-3.2 M442.23 365.50 v-3.2 M450.77 365.50 v-3.2 M459.30 365.50 v-3.2 M467.83 365.50 v-8.2 M476.37 365.50 v-3.2 M484.90 365.50 v-3.2 M493.43 365.50 v-3.2 M501.97 365.50 v-3.2 M510.50 365.50 v-8.2 M519.03 365.50 v-3.2 M527.57 365.50 v-3.2 M536.10 365.50 v-3.2 M544.63 365.50 v-3.2 M553.17 365.50 v-8.2 M561.70 365.50 v-3.2 M570.23 365.50 v-3.2 M578.77 365.50 v-3.2 M587.30 365.50 v-3.2 M595.83 365.50 v-8.2 M604.37 365.50 v-3.2 M612.90 365.50 v-3.2 M621.43 365.50 v-3.2 M629.97 365.50 v-3.2 M638.50 365.50 v-8.2 " stroke="#444" stroke-width="1" fill="none"/>
<text x="377.3" y="371.1" text-anchor="end" class="t" textLength="29" lengthAdjust="spacingAndGlyphs">0.00</text>
<text x="377.3" y="311.4" text-anchor="end" class="t" textLength="29" lengthAdjust="spacingAndGlyphs">0.25</text>
<text x="377.3" y="251.6" text-anchor="end" class="t" textLength="29" lengthAdjust="spacingAndGlyphs">0.50</text>
<text x="377.3" y="191.8" text-anchor="end" class="t" textLength="29" lengthAdjust="spacingAndGlyphs">0.75</text>
<text x="377.3" y="132.1" text-anchor="end" class="t" textLength="29" lengthAdjust="spacingAndGlyphs">1.00</text>
<text x="377.3" y="72.3" text-anchor="end" class="t" textLength="29" lengthAdjust="spacingAndGlyphs">1.25</text>
<text x="377.3" y="12.6" text-anchor="end" class="t" textLength="29" lengthAdjust="spacingAndGlyphs">1.50</text>
<text x="382.5" y="383.2" text-anchor="middle" class="t" textLength="8.3" lengthAdjust="spacingAndGlyphs">0</text>
<text x="425.2" y="383.2" text-anchor="middle" class="t" textLength="16.6" lengthAdjust="spacingAndGlyphs">25</text>
<text x="467.8" y="383.2" text-anchor="middle" class="t" textLength="16.6" lengthAdjust="spacingAndGlyphs">50</text>
<text x="510.5" y="383.2" text-anchor="middle" class="t" textLength="16.6" lengthAdjust="spacingAndGlyphs">75</text>
<text x="553.2" y="383.2" text-anchor="middle" class="t" textLength="24.9" lengthAdjust="spacingAndGlyphs">100</text>
<text x="595.8" y="383.2" text-anchor="middle" class="t" textLength="24.9" lengthAdjust="spacingAndGlyphs">125</text>
<text x="638.5" y="383.2" text-anchor="middle" class="t" textLength="24.9" lengthAdjust="spacingAndGlyphs">150</text>
<text x="166.3" y="405.6" class="b" style="font-size:19px">q</text><text x="176.6" y="409.8" class="s" style="font-size:13px">T</text><text x="194.0" y="405.3" class="b" textLength="46" lengthAdjust="spacingAndGlyphs">(GeV)</text>
<text x="473.3" y="405.6" class="b" style="font-size:19px">q</text><text x="483.6" y="409.8" class="s" style="font-size:13px">T</text><text x="501.0" y="405.3" class="b" textLength="46" lengthAdjust="spacingAndGlyphs">(GeV)</text>
<g transform="translate(18.2,193.7) rotate(-90)">
<text x="0" y="0" class="b" textLength="18.5" lengthAdjust="spacingAndGlyphs">dσ</text>
<path d="M20 4.5 L32.5 -13.3" stroke="#111" stroke-width="0.9"/>
<text x="33.3" y="0" class="b" textLength="18.2" lengthAdjust="spacingAndGlyphs">dq</text>
<text x="52" y="4.8" class="s" style="font-size:13px">T</text>
<text x="67.4" y="0" class="b" textLength="27.5" lengthAdjust="spacingAndGlyphs">(pb</text>
<path d="M94.3 4.5 L106.5 -13.3" stroke="#111" stroke-width="0.9"/>
<text x="108.3" y="0" class="b" textLength="42.8" lengthAdjust="spacingAndGlyphs">GeV)</text>
</g>
<text x="223.7" y="30.7" class="b"><tspan textLength="47" lengthAdjust="spacingAndGlyphs">MRST</tspan><tspan x="271.2" textLength="38" lengthAdjust="spacingAndGlyphs">2001</tspan></text>
<path d="M146.5 73.65 H198.5" stroke="#111" stroke-width="0.85"/>
<text x="209.2" y="81" class="b" textLength="90" lengthAdjust="spacingAndGlyphs">NNLL+NLO</text>
<path d="M146.7 102.3 H199.1" stroke="#2020ff" stroke-width="0.9" stroke-dasharray="6.8 4.7"/>
<text x="209.4" y="110" class="b" style="fill:#0000ff" textLength="32.5" lengthAdjust="spacingAndGlyphs">NLO</text>
<text x="397.3" y="30.7" class="b" textLength="89.5" lengthAdjust="spacingAndGlyphs">NNLL+NLO</text>
<text x="513.6" y="30.7" class="b" textLength="12.8" lengthAdjust="spacingAndGlyphs">M</text>
<text x="526.8" y="35" class="s">H</text>
<path d="M538.2 23.9 h10.6 M538.2 27.2 h10.6" stroke="#111" stroke-width="0.8"/>
<text x="551.7" y="30.7" class="b" textLength="29.3" lengthAdjust="spacingAndGlyphs">125</text>
<text x="591.7" y="30.7" class="b" textLength="31.5" lengthAdjust="spacingAndGlyphs">GeV</text>
<path d="M454 73.65 H505.7" stroke="#111" stroke-width="0.85"/>
<path transform="translate(516,80.5)" d="M0.5 3.3 L4 -7.9 M2.5 -2.9 C2 -0.9 2.9 -0.3 4.4 -0.3 C6.2 -0.3 7.6 -1.6 8.7 -3.6 M10.3 -7.9 L8.7 -2.4 C8.3 -0.9 8.7 -0.3 9.6 -0.3 C10.5 -0.3 11.3 -0.9 11.9 -1.9" fill="none" stroke="#111" stroke-width="1.15" stroke-linejoin="round"/>
<text x="529" y="84.8" class="s" style="fill:#111">R</text>
<path d="M539.4 73.8 h10.3 M539.4 77.1 h10.3" stroke="#111" stroke-width="0.8"/>
<path transform="translate(552,80.5)" d="M0.5 3.3 L4 -7.9 M2.5 -2.9 C2 -0.9 2.9 -0.3 4.4 -0.3 C6.2 -0.3 7.6 -1.6 8.7 -3.6 M10.3 -7.9 L8.7 -2.4 C8.3 -0.9 8.7 -0.3 9.6 -0.3 C10.5 -0.3 11.3 -0.9 11.9 -1.9" fill="none" stroke="#111" stroke-width="1.15" stroke-linejoin="round"/>
<text x="564.5" y="84.8" class="s" style="fill:#111">F</text>
<path d="M573.8 73.8 h10.3 M573.8 77.1 h10.3" stroke="#111" stroke-width="0.8"/>
<text x="586.6" y="80.5" class="b" style="fill:#111" textLength="12.5" lengthAdjust="spacingAndGlyphs">M</text><text x="600.2" y="84.8" class="s" style="fill:#111">H</text>
<path d="M453.8 102.3 H505.9" stroke="#ff1010" stroke-width="0.9" stroke-dasharray="6.7 4.9"/>
<path transform="translate(516,109.0)" d="M0.5 3.3 L4 -7.9 M2.5 -2.9 C2 -0.9 2.9 -0.3 4.4 -0.3 C6.2 -0.3 7.6 -1.6 8.7 -3.6 M10.3 -7.9 L8.7 -2.4 C8.3 -0.9 8.7 -0.3 9.6 -0.3 C10.5 -0.3 11.3 -0.9 11.9 -1.9" fill="none" stroke="#ff0000" stroke-width="1.15" stroke-linejoin="round"/>
<text x="529" y="113.3" class="s" style="fill:#ff0000">R</text>
<path d="M539.4 102.3 h10.3 M539.4 105.6 h10.3" stroke="#ff0000" stroke-width="0.8"/>
<path transform="translate(552,109.0)" d="M0.5 3.3 L4 -7.9 M2.5 -2.9 C2 -0.9 2.9 -0.3 4.4 -0.3 C6.2 -0.3 7.6 -1.6 8.7 -3.6 M10.3 -7.9 L8.7 -2.4 C8.3 -0.9 8.7 -0.3 9.6 -0.3 C10.5 -0.3 11.3 -0.9 11.9 -1.9" fill="none" stroke="#ff0000" stroke-width="1.15" stroke-linejoin="round"/>
<text x="564.5" y="113.3" class="s" style="fill:#ff0000">F</text>
<path d="M573.8 102.3 h10.3 M573.8 105.6 h10.3" stroke="#ff0000" stroke-width="0.8"/>
<text x="586.6" y="109.0" class="b" style="fill:#ff0000" textLength="12.5" lengthAdjust="spacingAndGlyphs">M</text><text x="600.2" y="113.3" class="s" style="fill:#ff0000">H</text><path d="M609.3 113.4 L621.2 94.5" stroke="#ff0000" stroke-width="0.9"/><text x="622.2" y="109.0" class="b" style="fill:#ff0000" textLength="8.7" lengthAdjust="spacingAndGlyphs">2</text>
<path d="M454.2 131.2 H505.9" stroke="#3030ff" stroke-width="1.15" stroke-dasharray="1.2 3.8"/>
<path transform="translate(516,137.6)" d="M0.5 3.3 L4 -7.9 M2.5 -2.9 C2 -0.9 2.9 -0.3 4.4 -0.3 C6.2 -0.3 7.6 -1.6 8.7 -3.6 M10.3 -7.9 L8.7 -2.4 C8.3 -0.9 8.7 -0.3 9.6 -0.3 C10.5 -0.3 11.3 -0.9 11.9 -1.9" fill="none" stroke="#0000ff" stroke-width="1.15" stroke-linejoin="round"/>
<text x="529" y="141.9" class="s" style="fill:#0000ff">R</text>
<path d="M539.4 130.9 h10.3 M539.4 134.2 h10.3" stroke="#0000ff" stroke-width="0.8"/>
<path transform="translate(552,137.6)" d="M0.5 3.3 L4 -7.9 M2.5 -2.9 C2 -0.9 2.9 -0.3 4.4 -0.3 C6.2 -0.3 7.6 -1.6 8.7 -3.6 M10.3 -7.9 L8.7 -2.4 C8.3 -0.9 8.7 -0.3 9.6 -0.3 C10.5 -0.3 11.3 -0.9 11.9 -1.9" fill="none" stroke="#0000ff" stroke-width="1.15" stroke-linejoin="round"/>
<text x="564.5" y="141.9" class="s" style="fill:#0000ff">F</text>
<path d="M573.8 130.9 h10.3 M573.8 134.2 h10.3" stroke="#0000ff" stroke-width="0.8"/>
<text x="587.1" y="137.6" class="b" style="fill:#0000ff" textLength="9" lengthAdjust="spacingAndGlyphs">2</text><text x="606.2" y="137.6" class="b" style="fill:#0000ff" textLength="12.5" lengthAdjust="spacingAndGlyphs">M</text><text x="619.7" y="141.9" class="s" style="fill:#0000ff">H</text>
</svg></body></html>
